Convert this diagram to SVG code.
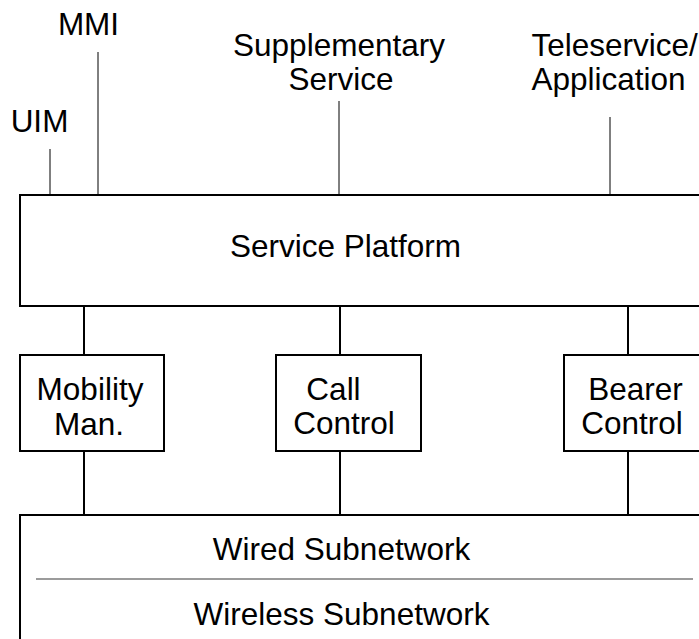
<svg xmlns="http://www.w3.org/2000/svg" width="699" height="639" viewBox="0 0 699 639">
  <style>
    .box { fill: #ffffff; stroke: #000000; stroke-width: 2; }
    .link { stroke: #000000; stroke-width: 2; fill: none; }
    .tap { stroke: #000000; stroke-width: 1; fill: none; }
    .sep { stroke: #7a7a7a; stroke-width: 1.5; fill: none; }
    text { font-family: "Liberation Sans", Arial, Helvetica, sans-serif; font-size: 31.5px; fill: #000000; }
    .mid { text-anchor: middle; }
  </style>
  <rect width="699" height="639" fill="#ffffff"/>

  <!-- interface labels above the platform -->
  <g id="labels">
    <text class="mid" x="88.5" y="35">MMI</text>
    <text class="mid" x="39.5" y="132">UIM</text>
    <text class="mid" x="339" y="56">Supplementary</text>
    <text class="mid" x="341" y="90">Service</text>
    <text x="531.5" y="56">Teleservice/</text>
    <text x="531.5" y="90">Application</text>
  </g>

  <!-- connectors -->
  <g id="connectors">
    <line class="tap" x1="50" y1="149" x2="50" y2="195"/>
    <line class="tap" x1="98" y1="52" x2="98" y2="195"/>
    <line class="tap" x1="339" y1="101" x2="339" y2="195"/>
    <line class="tap" x1="610" y1="117" x2="610" y2="195"/>
    <line class="link" x1="84" y1="306" x2="84" y2="355"/>
    <line class="link" x1="340" y1="306" x2="340" y2="355"/>
    <line class="link" x1="628" y1="306" x2="628" y2="355"/>
    <line class="link" x1="84" y1="451" x2="84" y2="515"/>
    <line class="link" x1="340" y1="451" x2="340" y2="515"/>
    <line class="link" x1="628" y1="451" x2="628" y2="515"/>
  </g>

  <g id="service-platform">
    <rect class="box" x="20" y="195" width="700" height="111"/>
    <text class="mid" x="345.5" y="257">Service Platform</text>
  </g>

  <g id="mobility-management">
    <rect class="box" x="20" y="355" width="144" height="96"/>
    <text class="mid" x="90" y="400">Mobility</text>
    <text class="mid" x="89" y="435">Man.</text>
  </g>

  <g id="call-control">
    <rect class="box" x="276" y="355" width="145" height="96"/>
    <text class="mid" x="333.5" y="400">Call</text>
    <text class="mid" x="344" y="434">Control</text>
  </g>

  <g id="bearer-control">
    <rect class="box" x="564" y="355" width="160" height="96"/>
    <text class="mid" x="635.5" y="400">Bearer</text>
    <text class="mid" x="632" y="434">Control</text>
  </g>

  <g id="subnetworks">
    <rect class="box" x="20" y="515" width="700" height="160"/>
    <text class="mid" x="341.5" y="560">Wired Subnetwork</text>
    <line class="sep" x1="36" y1="579" x2="693" y2="579"/>
    <text class="mid" x="341.5" y="625">Wireless Subnetwork</text>
  </g>
</svg>
